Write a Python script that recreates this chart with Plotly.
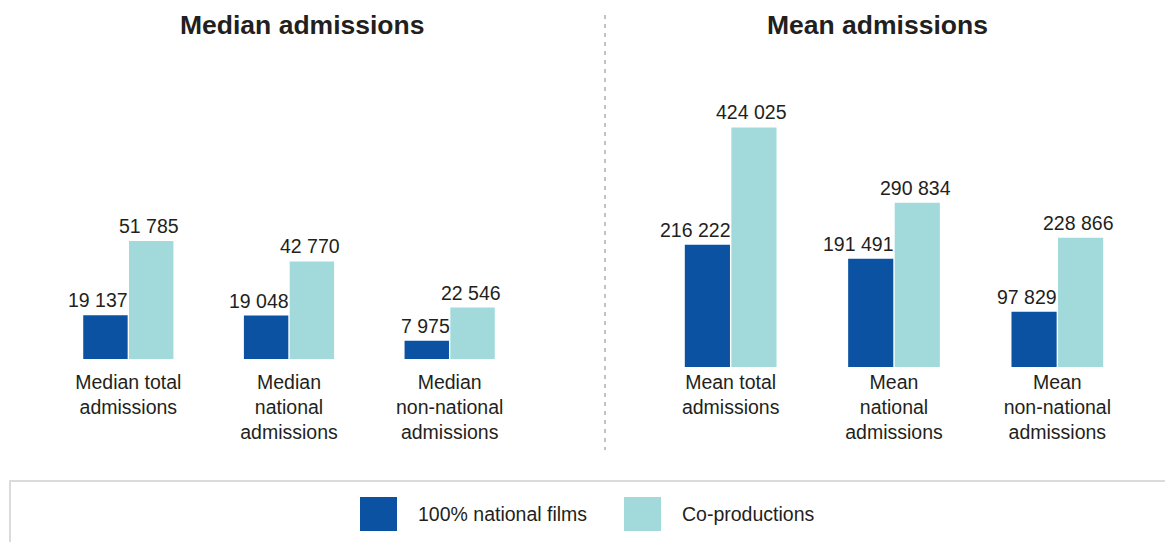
import plotly.graph_objects as go

# ---------------- data ----------------
median_categories = ["Median total<br>admissions", "Median<br>national<br>admissions", "Median<br>non-national<br>admissions"]
mean_categories = ["Mean total<br>admissions", "Mean<br>national<br>admissions", "Mean<br>non-national<br>admissions"]
series_names = ["100% national films", "Co-productions"]
median_national = [19137, 19048, 7975]
median_coprod = [51785, 42770, 22546]
mean_national = [216222, 191491, 97829]
mean_coprod = [424025, 290834, 228866]
panel_titles = ["Median admissions", "Mean admissions"]

# ---------------- style ----------------
W, H = 1165, 542
C_NAT = "#0B52A2"
C_COP = "#A2DADC"
TXT = "#231F20"
FONT = "Liberation Sans, Arial, sans-serif"


def px_x(p):
    return p / W


def px_y(p):
    return 1 - p / H


def fmt(v):
    return f"{v:,}".replace(",", " ")


fig = go.Figure()

panels = [
    ("x", "y", median_categories, median_national, median_coprod),
    ("x2", "y2", mean_categories, mean_national, mean_coprod),
]
for xa, ya, cats, nat, cop in panels:
    fig.add_trace(go.Bar(x=cats, y=nat, name=series_names[0], marker=dict(color=C_NAT, line=dict(width=0)),
                         xaxis=xa, yaxis=ya, showlegend=False, hoverinfo="skip"))
    fig.add_trace(go.Bar(x=cats, y=cop, name=series_names[1], marker=dict(color=C_COP, line=dict(width=0)),
                         xaxis=xa, yaxis=ya, showlegend=False, hoverinfo="skip"))
    for c, v in zip(cats, nat):
        fig.add_annotation(x=c, y=v, xref=xa, yref=ya, text=fmt(v), showarrow=False,
                           xanchor="right", yanchor="bottom", xshift=2, yshift=2,
                           font=dict(family=FONT, size=19.5, color=TXT))
    for c, v in zip(cats, cop):
        fig.add_annotation(x=c, y=v, xref=xa, yref=ya, text=fmt(v), showarrow=False,
                           xanchor="center", yanchor="bottom", xshift=21, yshift=2,
                           font=dict(family=FONT, size=19.5, color=TXT))

axis_common = dict(showgrid=False, zeroline=False, showline=False, ticks="",
                   tickfont=dict(family=FONT, size=19.5, color=TXT), fixedrange=True)

fig.update_layout(
    width=W, height=H,
    margin=dict(l=0, r=0, t=0, b=0),
    paper_bgcolor="white", plot_bgcolor="white",
    barmode="group", bargap=0.43, bargroupgap=0.03,
    xaxis=dict(domain=[px_x(48), px_x(530)], anchor="y", ticklabelstandoff=9, **axis_common),
    xaxis2=dict(domain=[px_x(649), px_x(1139)], anchor="y2", ticklabelstandoff=1, **axis_common),
    yaxis=dict(domain=[px_y(359), px_y(60)], range=[0, 131140], visible=False, anchor="x"),
    yaxis2=dict(domain=[px_y(367), px_y(60)], range=[0, 543400], visible=False, anchor="x2"),
    font=dict(family=FONT, color=TXT),
    showlegend=False,
)

# panel titles
for t, cx in zip(panel_titles, [302, 877]):
    fig.add_annotation(x=px_x(cx), y=px_y(25), xref="paper", yref="paper", text=f"<b>{t}</b>",
                       showarrow=False, xanchor="center", yanchor="middle",
                       font=dict(family=FONT, size=26.5, color=TXT))

# dashed divider
fig.add_shape(type="line", xref="paper", yref="paper", x0=px_x(605), x1=px_x(605),
              y0=px_y(15), y1=px_y(450), line=dict(color="#9a9a9a", width=1.2, dash="4px,5px"))

# legend box
fig.add_shape(type="rect", xref="paper", yref="paper", x0=px_x(10), x1=px_x(1175),
              y0=px_y(560), y1=px_y(481), line=dict(color="#cfcfcf", width=1.5), fillcolor="rgba(0,0,0,0)")

legend_items = [(series_names[0], C_NAT, 360, 416), (series_names[1], C_COP, 624, 680)]
for name, col, sx, tx in legend_items:
    fig.add_shape(type="rect", xref="paper", yref="paper", x0=px_x(sx), x1=px_x(sx + 37),
                  y0=px_y(531), y1=px_y(497), line=dict(width=0), fillcolor=col)
    fig.add_annotation(x=px_x(tx), y=px_y(514), xref="paper", yref="paper", text=name,
                       showarrow=False, xanchor="left", yanchor="middle",
                       font=dict(family=FONT, size=19.5, color=TXT))

fig.write_html("out.html", config={"displayModeBar": False},
               post_script="document.body.style.margin='0';document.body.style.overflow='hidden';")
